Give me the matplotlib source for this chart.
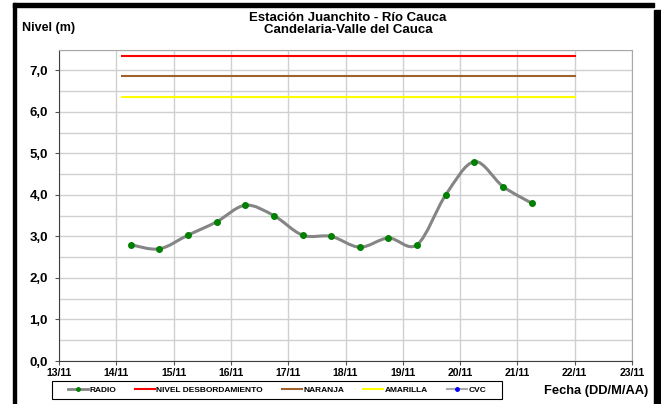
import matplotlib
matplotlib.use('Agg')
import matplotlib.pyplot as plt
from matplotlib.path import Path
from matplotlib.patches import PathPatch, Rectangle
from matplotlib.lines import Line2D

plt.rcParams['font.family'] = ['Liberation Sans', 'DejaVu Sans']
plt.rcParams['font.weight'] = 'bold'

# data (day of November, level in m)
radio_days = [14.25, 14.75, 15.25, 15.75, 16.25, 16.75, 17.25, 17.75,
              18.25, 18.75, 19.25, 19.75, 20.25, 20.75, 21.25]
radio_level = [2.80, 2.70, 3.03, 3.35, 3.75, 3.50, 3.03, 3.00,
               2.74, 2.96, 2.80, 4.00, 4.80, 4.20, 3.80]
alert_start, alert_end = 14.1, 22.0
nivel_desb = 7.35
naranja = 6.85
amarilla = 6.36
x_days = [13, 14, 15, 16, 17, 18, 19, 20, 21, 22, 23]
x_labels = ['13/11', '14/11', '15/11', '16/11', '17/11', '18/11',
            '19/11', '20/11', '21/11', '22/11', '23/11']
y_ticks = [0, 1, 2, 3, 4, 5, 6, 7]
y_labels = ['0,0', '1,0', '2,0', '3,0', '4,0', '5,0', '6,0', '7,0']

fig = plt.figure(figsize=(6.61, 4.04), dpi=100)
ax = fig.add_axes([59/661, 43/404, 573/661, 311.5/404])

# smoothed line like excel (bezier through the points)
pts = list(zip(radio_days, radio_level))
n = len(pts)
verts = [pts[0]]
codes = [Path.MOVETO]
for i in range(n - 1):
    p0 = pts[i - 1] if i > 0 else pts[i]
    p1 = pts[i]
    p2 = pts[i + 1]
    p3 = pts[i + 2] if i + 2 < n else pts[i + 1]
    c1 = (p1[0] + (p2[0] - p0[0]) / 6, p1[1] + (p2[1] - p0[1]) / 6)
    c2 = (p2[0] - (p3[0] - p1[0]) / 6, p2[1] - (p3[1] - p1[1]) / 6)
    verts += [c1, c2, p2]
    codes += [Path.CURVE4] * 3
ax.add_patch(PathPatch(Path(verts, codes), facecolor='none', edgecolor='#858585',
                       lw=2.2, zorder=3))
ax.plot(radio_days, radio_level, 'o', color='#008000', ms=4, zorder=4)

ax.plot([alert_start, alert_end], [nivel_desb] * 2, color='#ff0000', lw=1.5)
ax.plot([alert_start, alert_end], [naranja] * 2, color='#a0622d', lw=1.5)
ax.plot([alert_start, alert_end], [amarilla] * 2, color='#ffff00', lw=1.5)

ax.set_xlim(13, 23)
ax.set_ylim(0, 7.5)
ax.set_xticks(x_days)
ax.set_xticklabels(x_labels, fontsize=7.5, fontweight='bold')
ax.set_yticks(y_ticks)
ax.set_yticklabels(y_labels, fontsize=9.5, fontweight='bold')
ax.set_yticks([v + 0.5 for v in y_ticks], minor=True)
ax.grid(True, which='major', color='#d0d0d0', lw=1)
ax.grid(True, which='minor', axis='y', color='#d0d0d0', lw=1)
ax.tick_params(axis='y', which='minor', length=0)
ax.tick_params(axis='both', which='major', length=3, width=0.8, color='#555555', pad=2)
ax.tick_params(axis='y', which='major', pad=5)
for s in ['top', 'right']:
    ax.spines[s].set_color('#a8a8a8')
for s in ['left', 'bottom']:
    ax.spines[s].set_color('#404040')
ax.set_axisbelow(True)

fig.text(348/661, 1 - 24/404, 'Estación Juanchito - Río Cauca\nCandelaria-Valle del Cauca',
         ha='center', va='center', fontsize=9.5, fontweight='bold', linespacing=1.0)
fig.text(22/661, 1 - 28/404, 'Nivel (m)', ha='left', va='center', fontsize=9, fontweight='bold')
fig.text(648/661, 1 - 391/404, 'Fecha (DD/M/AA)', ha='right', va='center', fontsize=9.3,
         fontweight='bold')

handles = [
    Line2D([], [], color='#858585', lw=2, marker='o', ms=2.5, mfc='#008000', mec='#008000'),
    Line2D([], [], color='#ff0000', lw=1.5),
    Line2D([], [], color='#a0622d', lw=1.5),
    Line2D([], [], color='#ffff00', lw=1.5),
    Line2D([], [], color='#aaaaaa', lw=1.5, marker='o', ms=2.5, mfc='#0000ff', mec='#0000ff'),
]
labels = ['RADIO', 'NIVEL DESBORDAMIENTO', 'NARANJA', 'AMARILLA', 'CVC']
leg = fig.legend(handles, labels, loc='center', ncol=5,
                 bbox_to_anchor=(277/661, 1 - 390/404),
                 prop={'weight': 'bold', 'size': 6},
                 frameon=False, handlelength=2.4, handletextpad=0.15, columnspacing=2.3)

# legend frame
fig.patches.append(Rectangle((52/661, 1 - 399/404), 450/661, 18/404, transform=fig.transFigure,
                             facecolor='none', edgecolor='black', lw=0.8))

# outer black frame
fig.patches.append(Rectangle((13/661, 0), 3/661, 401/404, transform=fig.transFigure,
                             color='black', zorder=0))
fig.patches.append(Rectangle((13/661, 397/404), 641/661, 4/404, transform=fig.transFigure,
                             color='black', zorder=0))
fig.patches.append(Rectangle((654/661, 0), 7/661, 394/404, transform=fig.transFigure,
                             color='black', zorder=0))

fig.savefig('out.png', dpi=100)
